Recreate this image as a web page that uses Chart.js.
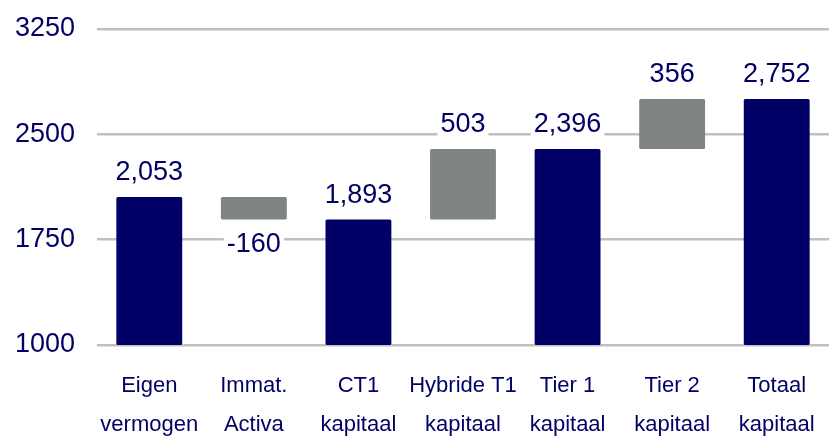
<!DOCTYPE html>
<html>
<head>
<meta charset="utf-8">
<script src="https://cdn.jsdelivr.net/npm/chart.js@4"></script>
<style>
html,body{margin:0;padding:0;background:#fff;}
#wrap{width:829px;height:436px;position:relative;}
</style>
</head>
<body>
<div id="wrap"><canvas id="c"></canvas></div>
<script>
const categories = [["Eigen","vermogen"],["Immat.","Activa"],["CT1","kapitaal"],["Hybride T1","kapitaal"],["Tier 1","kapitaal"],["Tier 2","kapitaal"],["Totaal","kapitaal"]];
const values = [2053, -160, 1893, 503, 2396, 356, 2752];
const isTotal = [true, false, true, false, true, false, true];
const yTicks = [1000, 1750, 2500, 3250];

const NAVY = '#000066';
const GREY = '#808584';

// build floating bars
let running = 0;
const barData = [];
const colors = [];
values.forEach((v, i) => {
  if (isTotal[i]) {
    running = v;
    barData.push([yTicks[0], v]);
    colors.push(NAVY);
  } else {
    barData.push([running, running + v]);
    running += v;
    colors.push(GREY);
  }
});

function fmt(v) {
  const s = Math.abs(v).toLocaleString('en-US');
  return (v < 0 ? '-' : '') + s;
}

const labelPlugin = {
  id: 'wfLabels',
  afterDatasetsDraw(chart) {
    const ctx = chart.ctx;
    const meta = chart.getDatasetMeta(0);
    ctx.save();
    ctx.font = '27px "Liberation Sans", Arial, sans-serif';
    ctx.textAlign = 'center';
    meta.data.forEach((el, i) => {
      const v = values[i];
      const top = Math.min(el.y, el.base);
      const bottom = Math.max(el.y, el.base);
      const txt = fmt(v);
      const w = ctx.measureText(txt).width;
      let baseY;
      if (v < 0) {
        baseY = bottom + 32;
      } else {
        baseY = top - 17;
      }
      ctx.fillStyle = '#ffffff';
      ctx.fillRect(el.x - w / 2 - 3, baseY - 22, w + 6, 26);
      ctx.fillStyle = NAVY;
      ctx.textBaseline = 'alphabetic';
      ctx.fillText(txt, el.x, baseY);
    });
    ctx.restore();
  }
};

new Chart(document.getElementById('c'), {
  type: 'bar',
  data: {
    labels: categories,
    datasets: [{
      data: barData,
      backgroundColor: colors,
      borderWidth: 0,
      borderRadius: 1.5,
      borderSkipped: false,
      barPercentage: 0.63,
      categoryPercentage: 1.0
    }]
  },
  options: {
    responsive: true,
    maintainAspectRatio: false,
    animation: false,
    layout: { padding: { left: 0, right: 0, top: 29, bottom: 0 } },
    plugins: {
      legend: { display: false },
      tooltip: { enabled: false }
    },
    scales: {
      x: {
        grid: { display: false },
        border: { display: false },
        afterFit(axis) { axis.height = 91; axis.paddingLeft = 0; axis.paddingRight = 0; },
        ticks: {
          color: NAVY,
          font: { family: '"Liberation Sans", Arial, sans-serif', size: 22, lineHeight: 1.8 },
          padding: 13,
          maxRotation: 0,
          autoSkip: false
        }
      },
      y: {
        min: 1000,
        max: 3250,
        afterBuildTicks(axis) { axis.ticks = yTicks.map(v => ({ value: v })); },
        afterFit(axis) { axis.width = 97; axis.paddingTop = 0; axis.paddingBottom = 0; },
        grid: { color: '#c0c0c0', lineWidth: 2.5, drawTicks: false },
        border: { display: false },
        ticks: {
          color: NAVY,
          font: { family: '"Liberation Sans", Arial, sans-serif', size: 27 },
          padding: 22,
          callback: v => String(v)
        }
      }
    }
  },
  plugins: [labelPlugin]
});
</script>
</body>
</html>
